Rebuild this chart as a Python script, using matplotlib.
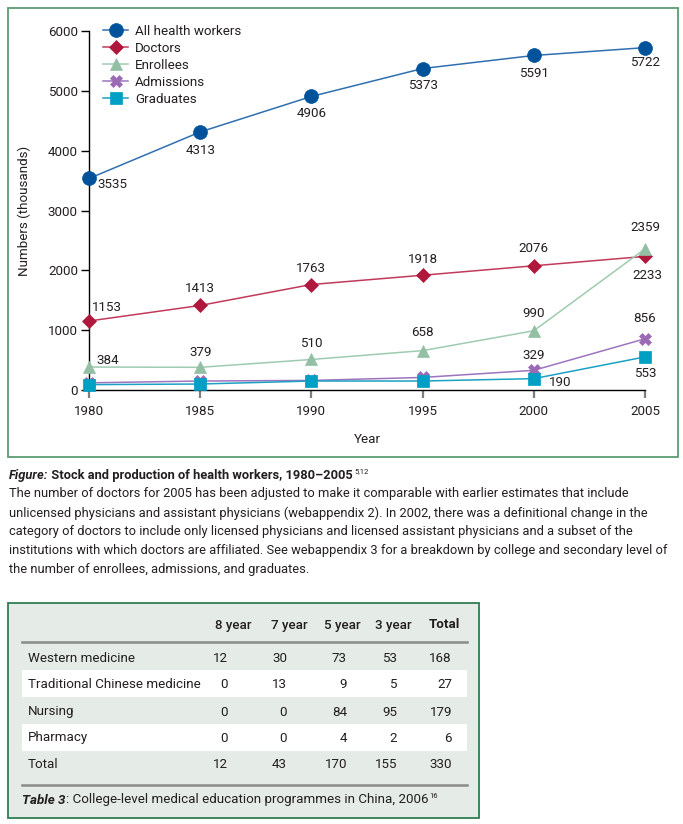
import matplotlib
matplotlib.use("Agg")
import matplotlib.pyplot as plt
from matplotlib.patches import Rectangle
from matplotlib import font_manager

# ---- data ----
years = [1980, 1985, 1990, 1995, 2000, 2005]
all_workers = [3535, 4313, 4906, 5373, 5591, 5722]
doctors = [1153, 1413, 1763, 1918, 2076, 2233]
enrollees = [384, 379, 510, 658, 990, 2359]
admissions = [120, 150, 160, 210, 329, 856]
graduates = [90, 100, 150, 150, 190, 553]

y_ticks = [0, 1000, 2000, 3000, 4000, 5000, 6000]

table_cols = ["8 year", "7 year", "5 year", "3 year", "Total"]
table_rows = ["Western medicine", "Traditional Chinese medicine",
              "Nursing", "Pharmacy", "Total"]
yr8 = [12, 0, 0, 0, 12]
yr7 = [30, 13, 0, 0, 43]
yr5 = [73, 9, 84, 4, 170]
yr3 = [53, 5, 95, 2, 155]
row_total = [168, 27, 179, 6, 330]

caption_lines = [
    "The number of doctors for 2005 has been adjusted to make it comparable with earlier estimates that include",
    "unlicensed physicians and assistant physicians (webappendix 2). In 2002, there was a definitional change in the",
    "category of doctors to include only licensed physicians and licensed assistant physicians and a subset of the",
    "institutions with which doctors are affiliated. See webappendix 3 for a breakdown by college and secondary level of",
    "the number of enrollees, admissions, and graduates.",
]

# ---- font ----
names = {f.name for f in font_manager.fontManager.ttflist}
if "Liberation Sans Narrow" in names:
    base_font = "Liberation Sans Narrow"
else:
    base_font = "Roboto"
plt.rcParams["font.family"] = [base_font, "DejaVu Sans"]
txt_color = "#231f20"
fs_chart = 9.6

W, H = 683, 824
fig = plt.figure(figsize=(W / 100, H / 100), dpi=100)


def fx(px):
    return px / W


def fy(py):
    return 1 - py / H


# panel frame round the chart
fig.patches.append(Rectangle((fx(8), fy(457)), fx(670), (457 - 8) / H,
                             transform=fig.transFigure, fill=False,
                             edgecolor="#5b9e74", lw=1.3))

ax = fig.add_axes([fx(89), fy(390), fx(645 - 89), (390 - 31) / H])

series = [
    ("All health workers", all_workers, "#00539b", "#2f6fb0", "o", 10),
    ("Doctors", doctors, "#b0173d", "#c23a5a", "D", 7.5),
    ("Enrollees", enrollees, "#93c0a4", "#9fcbb0", "^", 8.5),
    ("Admissions", admissions, "#9a6bb4", "#9d74bf", "X", 8),
    ("Graduates", graduates, "#009fc4", "#1aa1c4", "s", 8),
]

for name, vals, mcol, lcol, mk, ms in series:
    ax.plot(years, vals, color=lcol, lw=1.1, marker=mk, ms=ms,
            markerfacecolor=mcol, markeredgecolor=mcol, markeredgewidth=0.5,
            label=name, clip_on=False, zorder=3)

# data labels: (values, index, dx px, dy px, ha)
label_specs = [
    (all_workers, 0, 8, -6, "left"),
    (all_workers, 1, 0, -19, "center"),
    (all_workers, 2, 0, -17, "center"),
    (all_workers, 3, 0, -17, "center"),
    (all_workers, 4, 0, -18, "center"),
    (all_workers, 5, 0, -15, "center"),
    (doctors, 0, 3, 14, "left"),
    (doctors, 1, 0, 17, "center"),
    (doctors, 2, 0, 16, "center"),
    (doctors, 3, 0, 16, "center"),
    (doctors, 4, 0, 17, "center"),
    (doctors, 5, 2, -19, "center"),
    (enrollees, 0, 7, 7, "left"),
    (enrollees, 1, 0, 15, "center"),
    (enrollees, 2, 0, 16, "center"),
    (enrollees, 3, 0, 18, "center"),
    (enrollees, 4, 0, 17, "center"),
    (enrollees, 5, 0, 21, "center"),
    (admissions, 4, 0, 15, "center"),
    (admissions, 5, 0, 20, "center"),
    (graduates, 4, 15, -4, "left"),
    (graduates, 5, 0, -17, "center"),
]
for vals, i, dx, dy, ha in label_specs:
    ax.annotate(str(vals[i]), (years[i], vals[i]), xytext=(dx, dy),
                textcoords="offset pixels", ha=ha, va="center",
                fontsize=fs_chart, color=txt_color, zorder=5)

ax.set_xlim(1980, 2005)
ax.set_ylim(0, 6000)
ax.set_xticks(years)
ax.set_yticks(y_ticks)
for s in ["top", "right"]:
    ax.spines[s].set_visible(False)
ax.spines["left"].set_linewidth(1.0)
ax.spines["bottom"].set_linewidth(1.0)
ax.tick_params(axis="y", direction="out", length=6, width=1.0, pad=2,
               labelsize=fs_chart, labelcolor=txt_color)
ax.tick_params(axis="x", direction="out", length=6, width=1.6, pad=5,
               color="#7f7f7f", labelsize=fs_chart, labelcolor=txt_color)
ax.set_ylabel("Numbers (thousands)", fontsize=fs_chart, color=txt_color)
ax.set_xlabel("Year", fontsize=fs_chart, color=txt_color)
ax.yaxis.set_label_coords((31 - 89) / (645 - 89), 0.5)
ax.xaxis.set_label_coords(0.5, (390 - 433) / (390 - 31))

ax.legend(loc="upper left", bbox_to_anchor=(fx(103), fy(25)),
          bbox_transform=fig.transFigure, frameon=False, fontsize=fs_chart,
          handlelength=1.9, handletextpad=0.5, labelspacing=0.3,
          borderpad=0, borderaxespad=0, labelcolor=txt_color)

# ---- figure caption ----
fs_cap = 9.25
t1 = fig.text(fx(9), fy(475), "Figure:", style="italic", weight="semibold",
              fontsize=fs_cap, color=txt_color, va="center")
t2 = fig.text(0, 0, " Stock and production of health workers, 1980\u20132005",
              weight="semibold", fontsize=fs_cap, color=txt_color, va="center")
fig.canvas.draw()
r = fig.canvas.get_renderer()
bb = t1.get_window_extent(r)
t2.set_position((bb.x1 / W, fy(475)))
bb2 = t2.get_window_extent(r)
fig.text(bb2.x1 / W + fx(1), fy(471), "5,12", fontsize=5.5, color=txt_color,
         va="center")

for k, line in enumerate(caption_lines):
    fig.text(fx(9), fy(494 + k * 18.9), line, fontsize=fs_cap,
             color=txt_color, va="center")

# ---- table ----
fs_tab = 9.6
fig.patches.append(Rectangle((fx(8), fy(818)), fx(471), (818 - 603) / H,
                             transform=fig.transFigure, facecolor="#e5ebe6",
                             edgecolor="#2f7d52", lw=1.3))
for top in [670, 724]:
    fig.patches.append(Rectangle((fx(22), fy(top + 27)), fx(445), 27 / H,
                                 transform=fig.transFigure,
                                 facecolor="white", edgecolor="none"))
for yy in [642, 785]:
    fig.add_artist(plt.Line2D([fx(22), fx(467)], [fy(yy), fy(yy)],
                              transform=fig.transFigure, color="#8a8a8a",
                              lw=1.8))

head_x = [233, 289.5, 342, 393.5, 444]
for c, hx in zip(table_cols, head_x):
    fig.text(fx(hx), fy(625), c, ha="center", va="center", fontsize=fs_tab,
             weight="bold" if c == "Total" else 500, color=txt_color)

row_y = [658, 685, 712, 738, 765]
num_x = [228, 287, 347, 397, 452]
cols = [yr8, yr7, yr5, yr3, row_total]
for j, (name, ry) in enumerate(zip(table_rows, row_y)):
    fig.text(fx(28), fy(ry), name, ha="left", va="center", fontsize=fs_tab,
             color=txt_color)
    for col, nx in zip(cols, num_x):
        fig.text(fx(nx), fy(ry), str(col[j]), ha="right", va="center",
                 fontsize=fs_tab, color=txt_color)

c1 = fig.text(fx(22), fy(800), "Table 3", style="italic", weight="semibold",
              fontsize=fs_tab, color=txt_color, va="center")
c2 = fig.text(0, 0, ": College-level medical education programmes in China, 2006",
              fontsize=fs_tab, color=txt_color, va="center")
fig.canvas.draw()
bb = c1.get_window_extent(r)
c2.set_position((bb.x1 / W, fy(800)))
bb2 = c2.get_window_extent(r)
fig.text(bb2.x1 / W + fx(1), fy(796), "16", fontsize=5.5, color=txt_color,
         va="center")

fig.savefig("out.png", dpi=100)
